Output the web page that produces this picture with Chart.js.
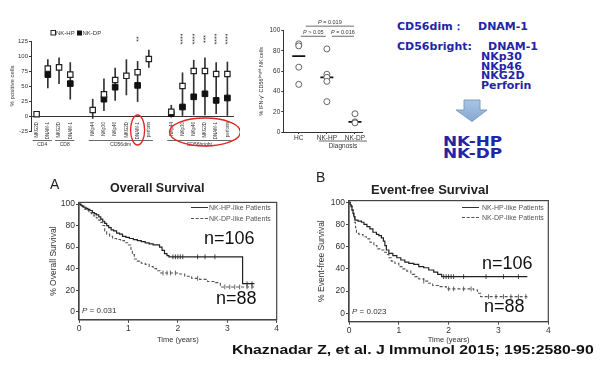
<!DOCTYPE html>
<html>
<head>
<meta charset="utf-8">
<script src="https://cdn.jsdelivr.net/npm/chart.js@4.4.0/dist/chart.umd.min.js"></script>
<style>
  html, body { margin: 0; padding: 0; background: #fff; }
  #page { position: relative; width: 600px; height: 375px; overflow: hidden; font-family: 'Liberation Sans', Arial, sans-serif; }
  canvas { position: absolute; }
  .t { position: absolute; white-space: nowrap; line-height: 1; transform: translateY(-50%); color: #222; }
  .blue { color: #2424a6; font-family: 'DejaVu Sans', sans-serif; font-weight: bold; font-size: 11px; }
  .big { color: #2424a6; font-family: 'DejaVu Sans', sans-serif; font-weight: bold; font-size: 13.5px; transform: translateY(-50%) scaleX(1.25); transform-origin: left center; }
  .lg { font-size: 7px; color: #555; }
  .lgline { position: absolute; width: 17px; height: 0; }
  .n { font-size: 18px; color: #111; }
  .pv { font-size: 8px; color: #333; }
</style>
</head>
<body>
<div id="page">
  <canvas id="subsetChart" width="240" height="150" style="left:0;top:0"></canvas>
  <canvas id="ifnChart" width="135" height="152" style="left:240px;top:0"></canvas>
  <canvas id="osChart" width="250" height="175" style="left:40px;top:170px"></canvas>
  <canvas id="efsChart" width="260" height="175" style="left:300px;top:170px"></canvas>

  <!-- right-hand summary text -->
  <div class="t blue" style="left:397px;top:26px">CD56dim：</div>
  <div class="t blue" style="left:478px;top:26px">DNAM-1</div>
  <div class="t blue" style="left:397px;top:46px">CD56bright:</div>
  <div class="t blue" style="left:488px;top:46px">DNAM-1</div>
  <div class="t blue" style="left:481px;top:56px">NKp30</div>
  <div class="t blue" style="left:481px;top:65.7px">NKp46</div>
  <div class="t blue" style="left:481px;top:75.3px">NKG2D</div>
  <div class="t blue" style="left:481px;top:85.3px">Perforin</div>
  <svg style="position:absolute;left:455px;top:99px" width="34" height="24">
    <defs><linearGradient id="ag" x1="0" y1="0" x2="0" y2="1"><stop offset="0" stop-color="#a9c3e3"/><stop offset="1" stop-color="#88a8d3"/></linearGradient></defs>
    <polygon points="9,1 25,1 25,11 32,11 17,22.5 1,11 9,11" fill="url(#ag)" stroke="#7f9dc6" stroke-width="1"/>
  </svg>
  <div class="t big" style="left:443px;top:141.7px">NK-HP</div>
  <div class="t big" style="left:443px;top:154px">NK-DP</div>

  <!-- survival panel text -->
  <div class="t" style="left:50px;top:183.5px;font-size:14px">A</div>
  <div class="t" style="left:110px;top:187.7px;font-size:12.5px;font-weight:bold">Overall Survival</div>
  <div class="t" style="left:316px;top:176.5px;font-size:14px">B</div>
  <div class="t" style="left:371px;top:189.3px;font-size:13px;font-weight:bold">Event-free Survival</div>

  <div class="lgline" style="left:191px;top:207px;border-top:1px solid #333"></div>
  <div class="t lg" style="left:209px;top:207px">NK-HP-like Patients</div>
  <div class="lgline" style="left:191px;top:218px;border-top:1px dashed #555"></div>
  <div class="t lg" style="left:209px;top:218px">NK-DP-like Patients</div>
  <div class="lgline" style="left:462px;top:207px;border-top:1px solid #333"></div>
  <div class="t lg" style="left:482px;top:207px">NK-HP-like Patients</div>
  <div class="lgline" style="left:462px;top:217px;border-top:1px dashed #555"></div>
  <div class="t lg" style="left:482px;top:217px">NK-DP-like Patients</div>

  <div class="t n" style="left:204px;top:238px">n=106</div>
  <div class="t n" style="left:216px;top:298px">n=88</div>
  <div class="t n" style="left:482px;top:262.7px">n=106</div>
  <div class="t n" style="left:484px;top:305.7px">n=88</div>
  <div class="t pv" style="left:82px;top:310.7px"><i>P</i> = 0.031</div>
  <div class="t pv" style="left:352px;top:312px"><i>P</i> = 0.023</div>

  <div class="t" style="left:232px;top:349.5px;font-size:13.5px;font-weight:bold;color:#111;transform:translateY(-50%) scaleX(1.17);transform-origin:left center">Khaznadar Z, et al. J Immunol 2015; 195:2580-90</div>
</div>

<script>
// ---- top left: % positive cells per subset ----
const subsetGroups = ['CD4', 'CD8', 'CD56dim', 'CD56bright'];
const subsetMarkers = [
  ['NKG2D', 'DNAM-1'],
  ['NKG2D', 'DNAM-1'],
  ['NKp44', 'NKp30', 'NKp46', 'NKG2D', 'DNAM-1', 'perforin'],
  ['NKp44', 'NKp30', 'NKp46', 'NKG2D', 'DNAM-1', 'perforin']
];
const hpMean   = [3, 79, 81, 69, 10, 36, 60, 67, 73, 95, 7, 50, 75, 75, 70, 70];
const hpUpper  = [5, 94, 97, 89, 28, 62, 80, 94, 91, 110, 18, 72, 93, 97, 89, 90];
const dpMean   = [null, 69, null, 54, null, 28, 48, null, 51, null, 4, 15, 32, 37, 26, 30];
const barLower = [1, 47, 54, 28, -4, 9, 26, 35, 24, 81, -2, 0, 2, 2, 4, 0];
const stars    = ['', '', '', '', '', '', '', '', '**', '', '', '****', '****', '***', '****', '****'];
const subsetYTicks = [-25, 0, 25, 50, 75, 100, 125];

// ---- top middle: IFN-g+ CD56bright NK cells ----
const diagGroups = ['HC', 'NK-HP', 'NK-DP'];
const ifnHC = [87, 85, 64, 47];
const ifnHP = [82, 57, 54, 50, 30];
const ifnDP = [18, 10, 9];
const ifnMedian = [75, 54, 10];
const ifnYTicks = [0, 20, 40, 60, 80, 100];
const pLabels = ['0.019', '> 0.05', '0.016'];

// ---- bottom: Kaplan-Meier curves ----
const kmXTicks = [0, 1, 2, 3, 4];
const kmYTicks = [0, 20, 40, 60, 80, 100];

const osHpTime = [0, 0.03, 0.06, 0.1, 0.14, 0.18, 0.22, 0.27, 0.31, 0.35, 0.4, 0.44, 0.48, 0.52, 0.56, 0.6, 0.65, 0.7, 0.76, 0.82, 0.88, 0.95, 1.02, 1.1, 1.18, 1.26, 1.34, 1.42, 1.5, 1.63, 1.68, 1.73, 1.78, 1.82, 3.31, 3.55];
const osHpSurv = [100, 99, 98, 97, 96, 95, 94, 92, 91, 90, 88, 86, 84, 82, 80, 78, 76, 75, 73, 72, 70, 69, 68, 67, 66, 65, 64, 63, 62, 60, 57, 54, 52, 51, 26, 26];
const osDpTime = [0, 0.04, 0.08, 0.12, 0.16, 0.2, 0.25, 0.3, 0.35, 0.4, 0.44, 0.48, 0.52, 0.56, 0.62, 0.68, 0.76, 0.84, 0.92, 1.0, 1.05, 1.08, 1.12, 1.18, 1.26, 1.34, 1.42, 1.5, 1.57, 1.64, 2.04, 2.14, 2.28, 2.44, 2.6, 2.76, 2.86, 3.58];
const osDpSurv = [100, 98, 97, 95, 94, 92, 91, 89, 87, 85, 83, 80, 75, 72, 70, 68, 67, 66, 64, 62, 58, 53, 49, 47, 45, 44, 42, 40, 38, 36, 35, 33, 31, 30, 28, 27, 23, 23];
const osHpCensor = [1.9, 1.95, 2.0, 2.05, 2.1, 2.4, 2.55, 2.75, 3.4, 3.5];
const osDpCensor = [1.7, 1.78, 1.85, 1.95, 2.4, 2.95, 3.05, 3.15, 3.25, 3.4, 3.5];

const efsHpTime = [0, 0.02, 0.04, 0.06, 0.08, 0.1, 0.12, 0.18, 0.25, 0.3, 0.36, 0.42, 0.48, 0.55, 0.6, 0.65, 0.69, 0.72, 0.75, 0.8, 0.88, 0.96, 1.04, 1.12, 1.2, 1.3, 1.4, 1.5, 1.6, 1.7, 1.78, 1.86, 3.58];
const efsHpSurv = [100, 98, 96, 93, 90, 87, 84, 83, 82, 80, 78, 76, 73, 71, 70, 68, 65, 61, 57, 54, 52, 50, 48, 46, 45, 44, 42, 41, 39, 37, 35, 33, 33];
const efsDpTime = [0, 0.03, 0.06, 0.09, 0.11, 0.13, 0.15, 0.2, 0.28, 0.35, 0.42, 0.5, 0.56, 0.62, 0.7, 0.75, 0.8, 0.85, 0.92, 1.0, 1.08, 1.16, 1.24, 1.32, 1.4, 1.5, 1.58, 1.68, 1.8, 1.95, 2.5, 2.58, 2.64, 3.58];
const efsDpSurv = [100, 97, 93, 88, 82, 77, 72, 71, 69, 67, 64, 61, 58, 57, 55, 53, 50, 47, 45, 42, 40, 38, 35, 33, 31, 29, 27, 25, 24, 22, 21, 18, 15, 15];
const efsHpCensor = [1.9, 1.95, 2.0, 2.05, 2.1, 2.3, 2.75, 3.1, 3.4];
const efsDpCensor = [1.5, 2.0, 2.1, 2.3, 2.45, 2.8, 2.95, 3.1, 3.25, 3.4, 3.55];

Chart.defaults.font.family = "'Liberation Sans', Arial, sans-serif";
Chart.defaults.color = '#333';
const noPlugins = { legend: { display: false }, tooltip: { enabled: false } };

// category slots, with a blank slot in front of each CD56 group
const slotLabels = [];
const slotIndex = [];
subsetGroups.forEach((g, gi) => {
  if (gi >= 2) slotLabels.push('');
  subsetMarkers[gi].forEach(m => { slotIndex.push(slotLabels.length); slotLabels.push(m); });
});
function toSlots(arr) {
  const out = slotLabels.map(() => null);
  arr.forEach((v, k) => { out[slotIndex[k]] = v; });
  return out;
}

const subsetExtras = {
  id: 'subsetExtras',
  afterDraw(chart) {
    const { ctx, scales: { x, y } } = chart;
    const y0 = y.getPixelForValue(0);
    ctx.save();
    ctx.fillStyle = '#333';
    ctx.strokeStyle = '#444';
    ctx.lineWidth = 0.8;
    // group brackets under the rotated labels
    ctx.font = "5px 'Liberation Sans'";
    ctx.textAlign = 'center';
    ctx.textBaseline = 'top';
    let k = 0;
    subsetGroups.forEach((g, gi) => {
      const n = subsetMarkers[gi].length;
      const xa = x.getPixelForValue(slotIndex[k]) - 4;
      const xb = x.getPixelForValue(slotIndex[k + n - 1]) + 4;
      ctx.beginPath();
      ctx.moveTo(xa, y0 + 24.5);
      ctx.lineTo(xb, y0 + 24.5);
      ctx.stroke();
      ctx.fillText(g, (xa + xb) / 2, y0 + 26);
      k += n;
    });
    // significance stars
    ctx.font = "7px 'Liberation Sans'";
    ctx.textBaseline = 'middle';
    stars.forEach((s, i) => {
      if (!s) return;
      ctx.save();
      ctx.translate(x.getPixelForValue(slotIndex[i]) + 1, 39);
      ctx.rotate(-Math.PI / 2);
      ctx.fillText(s, 0, 0);
      ctx.restore();
    });
    // legend
    ctx.font = "6px 'Liberation Sans'";
    ctx.textAlign = 'left';
    ctx.lineWidth = 1;
    ctx.strokeStyle = '#222';
    ctx.fillStyle = '#fff';
    ctx.fillRect(51, 30.5, 4.5, 4.5);
    ctx.strokeRect(51, 30.5, 4.5, 4.5);
    ctx.fillStyle = '#111';
    ctx.fillRect(77, 30.5, 5, 5);
    ctx.fillStyle = '#333';
    ctx.fillText('NK-HP', 56, 33.3);
    ctx.fillText('NK-DP', 82.5, 33.3);
    // red highlight ellipses
    ctx.strokeStyle = '#e3231f';
    ctx.lineWidth = 1.3;
    const ring = (a, b, ry, dy, padX) => {
      const xa = x.getPixelForValue(slotIndex[a]);
      const xb = x.getPixelForValue(slotIndex[b]);
      ctx.beginPath();
      ctx.ellipse((xa + xb) / 2, y0 + dy, (xb - xa) / 2 + padX, ry, 0, 0, Math.PI * 2);
      ctx.stroke();
    };
    ring(8, 8, 15, 14, 7);
    ring(11, 15, 14, 16, 13);
    ctx.restore();
  }
};

new Chart(document.getElementById('subsetChart'), {
  type: 'bar',
  data: {
    labels: slotLabels,
    datasets: [
      { type: 'bar', data: toSlots(hpUpper.map((u, k) => [barLower[k], u])), backgroundColor: '#333', barThickness: 1, order: 3 },
      { type: 'line', data: toSlots(dpMean), showLine: false, pointStyle: 'rect', pointRadius: 4, backgroundColor: '#111', borderColor: '#111', borderWidth: 1, order: 2 },
      { type: 'line', data: toSlots(hpMean), showLine: false, pointStyle: 'rect', pointRadius: 3.8, backgroundColor: '#fff', borderColor: '#222', borderWidth: 1.2, order: 1 }
    ]
  },
  options: {
    responsive: false, animation: false, events: [],
    layout: { padding: { top: 41, right: 7, bottom: 19, left: 0 } },
    plugins: noPlugins,
    scales: {
      x: {
        position: { y: 0 },
        grid: { display: false, drawTicks: false },
        border: { color: '#333', width: 1 },
        ticks: { minRotation: 90, maxRotation: 90, autoSkip: false, font: { size: 4.5 }, color: '#333', padding: 6 }
      },
      y: {
        min: -25, max: 125,
        afterBuildTicks: s => { s.ticks = subsetYTicks.map(v => ({ value: v })); },
        afterFit: s => { s.width = 31; },
        grid: { drawOnChartArea: false, tickLength: 2, color: '#333' },
        border: { color: '#333', width: 1 },
        ticks: { font: { size: 6 }, color: '#333', padding: 1 },
        title: { display: true, text: '% positive cells', font: { size: 6 }, color: '#333', padding: { top: 9, bottom: 0 } }
      }
    }
  },
  plugins: [subsetExtras]
});

// ---- IFN-g dot plot ----
const ifnExtras = {
  id: 'ifnExtras',
  afterDraw(chart) {
    const { ctx, scales: { x, y } } = chart;
    ctx.save();
    ctx.strokeStyle = '#444';
    ctx.fillStyle = '#333';
    ctx.lineWidth = 0.8;
    ctx.textBaseline = 'bottom';
    const pairs = [[0, 2, 104.5], [0, 1, 94.5], [1, 2, 94.5]];
    pairs.forEach(([a, b, lvl], i) => {
      const xa = x.getPixelForValue(a) + (i === 0 ? 7 : i === 2 ? 5 : 2);
      const xb = x.getPixelForValue(b) - 1;
      const yy = y.getPixelForValue(lvl);
      ctx.beginPath();
      ctx.moveTo(xa, yy);
      ctx.lineTo(xb, yy);
      ctx.stroke();
      const label = pLabels[i].startsWith('>') ? ' ' + pLabels[i] : ' = ' + pLabels[i];
      ctx.font = "5.5px 'Liberation Sans'";
      const w1 = ctx.measureText(label).width;
      ctx.font = "italic 5.5px 'Liberation Sans'";
      const w0 = ctx.measureText('P').width;
      const cx = (xa + xb) / 2 - (w0 + w1) / 2;
      ctx.textAlign = 'left';
      ctx.fillText('P', cx, yy - 1);
      ctx.font = "5.5px 'Liberation Sans'";
      ctx.fillText(label, cx + w0, yy - 1);
    });
    // Diagnosis label with rule above
    const bottom = chart.chartArea.bottom;
    const xa = x.getPixelForValue(1) - 8;
    const xb = x.getPixelForValue(2) + 12;
    ctx.beginPath();
    ctx.moveTo(xa, bottom + 9);
    ctx.lineTo(xb, bottom + 9);
    ctx.stroke();
    ctx.textAlign = 'center';
    ctx.textBaseline = 'middle';
    ctx.font = "6.5px 'Liberation Sans'";
    ctx.fillText('Diagnosis', (xa + xb) / 2, bottom + 14);
    ctx.restore();
  }
};

new Chart(document.getElementById('ifnChart'), {
  type: 'scatter',
  data: {
    datasets: [
      ...[ifnHC, ifnHP, ifnDP].map((vals, gi) => ({
        data: vals.map(v => ({ x: gi, y: v })),
        pointRadius: 3, borderWidth: 0.9, borderColor: '#555', backgroundColor: '#fff'
      })),
      { data: ifnMedian.map((v, gi) => ({ x: gi, y: v })), pointStyle: 'line', pointRadius: 6.5, borderWidth: 1.8, borderColor: '#111' }
    ]
  },
  options: {
    responsive: false, animation: false, events: [],
    layout: { padding: { top: 30.7, right: 13, bottom: 0, left: 0 } },
    plugins: noPlugins,
    scales: {
      x: {
        type: 'linear', min: -0.55, max: 2.25,
        afterBuildTicks: s => { s.ticks = diagGroups.map((g, i) => ({ value: i })); },
        afterFit: s => { s.height = 20; },
        grid: { drawOnChartArea: false, tickLength: 2, color: '#333' },
        border: { color: '#333' },
        ticks: { font: { size: 6.5 }, color: '#333', padding: 0, callback: v => diagGroups[v] }
      },
      y: {
        min: 0, max: 100,
        afterBuildTicks: s => { s.ticks = ifnYTicks.map(v => ({ value: v })); },
        afterFit: s => { s.width = 43.3; },
        grid: { drawOnChartArea: false, tickLength: 2, color: '#333' },
        border: { color: '#333' },
        ticks: { font: { size: 6.5 }, color: '#333', padding: 1 },
        title: { display: true, text: '% IFN-γ⁺ CD56ᵇʳⁱᵍʰᵗ NK cells', font: { size: 5.5 }, color: '#333', padding: { top: 18, bottom: 0 } }
      }
    }
  },
  plugins: [ifnExtras]
});

// ---- Kaplan-Meier panels ----
function survAt(times, surv, t) {
  let v = surv[0];
  times.forEach((tt, i) => { if (tt <= t) v = surv[i]; });
  return v;
}
const boxPlugin = {
  id: 'box',
  afterDraw(chart) {
    const a = chart.chartArea;
    const ctx = chart.ctx;
    ctx.save();
    ctx.strokeStyle = '#444';
    ctx.lineWidth = 1.2;
    ctx.strokeRect(a.left, a.top, a.width, a.height);
    ctx.restore();
  }
};
function kmChart(id, hpT, hpS, dpT, dpS, hpC, dpC, yTitle, box) {
  return new Chart(document.getElementById(id), {
    type: 'scatter',
    data: {
      datasets: [
        { data: hpT.map((t, i) => ({ x: t, y: hpS[i] })), showLine: true, stepped: true, borderColor: '#222', borderWidth: 1.2, pointRadius: 0 },
        { data: dpT.map((t, i) => ({ x: t, y: dpS[i] })), showLine: true, stepped: true, borderColor: '#555', borderWidth: 1.1, borderDash: [3, 2], pointRadius: 0 },
        { data: hpC.map(t => ({ x: t, y: survAt(hpT, hpS, t) })), pointStyle: 'line', rotation: 90, pointRadius: 2.4, borderColor: '#333', borderWidth: 0.9 },
        { data: dpC.map(t => ({ x: t, y: survAt(dpT, dpS, t) })), pointStyle: 'line', rotation: 90, pointRadius: 2.4, borderColor: '#555', borderWidth: 0.9 }
      ]
    },
    options: {
      responsive: false, animation: false, events: [],
      layout: { padding: { top: box.top, right: box.right, bottom: 0, left: 0 } },
      plugins: noPlugins,
      scales: {
        x: {
          type: 'linear', min: 0, max: 4,
          afterBuildTicks: s => { s.ticks = kmXTicks.map(v => ({ value: v })); },
          afterFit: s => { s.height = box.axisH; },
          grid: { drawOnChartArea: false, tickLength: 3, color: '#444' },
          border: { color: '#444', width: 1.2 },
          ticks: { font: { size: 8.5 }, color: '#333', padding: 1 },
          title: { display: true, text: 'Time (years)', font: { size: 7.5 }, color: '#333', padding: { top: 0, bottom: 0.5 } }
        },
        y: {
          min: -7.5, max: 101.5,
          afterBuildTicks: s => { s.ticks = kmYTicks.map(v => ({ value: v })); },
          afterFit: s => { s.width = box.axisW; },
          grid: { drawOnChartArea: false, tickLength: 3, color: '#444' },
          border: { color: '#444', width: 1.2 },
          ticks: { font: { size: 8.5 }, color: '#333', padding: 1 },
          title: { display: true, text: yTitle, font: { size: 8.5 }, color: '#333', padding: { top: box.titlePad, bottom: 0 } }
        }
      }
    },
    plugins: [boxPlugin]
  });
}

kmChart('osChart', osHpTime, osHpSurv, osDpTime, osDpSurv, osHpCensor, osDpCensor, '% Overall Survival',
  { top: 32.4, right: 13.3, axisW: 39, axisH: 25.2, titlePad: 9 });
kmChart('efsChart', efsHpTime, efsHpSurv, efsDpTime, efsDpSurv, efsHpCensor, efsDpCensor, '% Event-free Survival',
  { top: 30.6, right: 11.7, axisW: 49, axisH: 23.4, titlePad: 17 });
</script>
</body>
</html>
